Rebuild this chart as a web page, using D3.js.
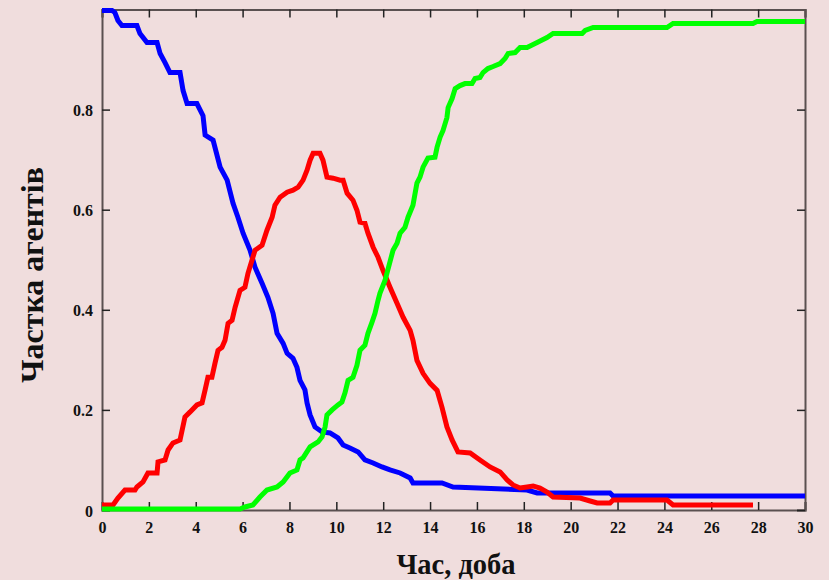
<!DOCTYPE html>
<html>
<head>
<meta charset="utf-8">
<script src="https://cdn.jsdelivr.net/npm/d3@7/dist/d3.min.js"></script>
<style>
  html, body { margin: 0; padding: 0; background: #f0dddd; }
  svg { display: block; }
  text { font-family: "Liberation Serif", "Times New Roman", serif; font-weight: bold; fill: #111; }
</style>
</head>
<body>
<svg id="chart" width="829" height="580"></svg>
<script>
// Agent-based SIR run: share of agents per state over time (days)
// Each series is a list of [day, share] samples.
const susceptible = [
  [0.00,0.998],[0.43,0.998],[0.55,0.994],[0.68,0.978],[0.85,0.968],[1.49,0.968],[1.62,0.952],
  [1.92,0.934],[2.35,0.934],[2.48,0.912],[2.69,0.894],[2.90,0.874],[3.33,0.874],[3.46,0.838],
  [3.63,0.812],[4.05,0.812],[4.31,0.788],[4.40,0.749],[4.74,0.739],[5.04,0.685],[5.34,0.659],
  [5.59,0.613],[5.80,0.585],[6.02,0.553],[6.32,0.519],[6.53,0.485],[6.83,0.453],[7.08,0.425],
  [7.30,0.393],[7.47,0.353],[7.73,0.333],[7.90,0.313],[8.15,0.303],[8.32,0.285],[8.45,0.259],
  [8.66,0.240],[8.75,0.214],[8.88,0.190],[9.09,0.166],[9.39,0.156],[9.73,0.154],[10.07,0.144],
  [10.29,0.130],[10.58,0.124],[10.93,0.116],[11.22,0.100],[11.57,0.094],[11.95,0.086],
  [12.29,0.080],[12.72,0.074],[13.15,0.064],[13.27,0.054],[14.51,0.054],[14.98,0.046],
  [18.14,0.040],[18.57,0.034],[21.68,0.034],[21.81,0.028],[30.00,0.028]
];
const infected = [
  [0.00,0.010],[0.47,0.010],[0.68,0.024],[0.98,0.040],[1.41,0.040],[1.49,0.046],[1.75,0.056],
  [1.96,0.074],[2.35,0.074],[2.39,0.096],[2.69,0.100],[2.82,0.120],[3.03,0.134],[3.33,0.140],
  [3.54,0.186],[3.76,0.196],[4.05,0.210],[4.27,0.214],[4.40,0.240],[4.52,0.265],[4.69,0.265],
  [4.82,0.293],[4.95,0.319],[5.12,0.325],[5.25,0.339],[5.38,0.373],[5.55,0.379],[5.68,0.405],
  [5.89,0.439],[6.10,0.445],[6.23,0.473],[6.40,0.499],[6.53,0.519],[6.83,0.529],[7.04,0.559],
  [7.26,0.585],[7.38,0.609],[7.60,0.625],[7.90,0.635],[8.15,0.639],[8.37,0.645],[8.58,0.659],
  [8.75,0.679],[8.88,0.699],[9.01,0.713],[9.30,0.713],[9.43,0.699],[9.60,0.665],[9.86,0.663],
  [10.16,0.659],[10.29,0.659],[10.46,0.633],[10.71,0.619],[10.88,0.599],[11.01,0.575],
  [11.22,0.573],[11.35,0.553],[11.57,0.525],[11.78,0.505],[11.99,0.479],[12.29,0.445],
  [12.59,0.413],[12.85,0.385],[13.15,0.359],[13.27,0.339],[13.44,0.299],[13.70,0.273],
  [14.00,0.253],[14.30,0.239],[14.51,0.205],[14.72,0.166],[14.94,0.140],[15.19,0.116],
  [15.71,0.114],[16.13,0.100],[16.56,0.086],[16.99,0.076],[17.29,0.060],[17.54,0.050],
  [17.84,0.044],[18.14,0.046],[18.40,0.048],[18.69,0.044],[18.99,0.036],[19.25,0.026],
  [20.40,0.024],[20.83,0.018],[21.13,0.014],[21.68,0.014],[21.81,0.020],[24.11,0.020],
  [24.37,0.010],[27.78,0.010]
];
const recovered = [
  [0.00,0.002],[5.89,0.002],[6.10,0.006],[6.44,0.010],[6.74,0.026],[7.04,0.040],[7.47,0.046],
  [7.73,0.056],[8.02,0.074],[8.32,0.080],[8.45,0.100],[8.58,0.104],[8.88,0.126],[9.22,0.136],
  [9.39,0.146],[9.52,0.166],[9.60,0.190],[9.82,0.200],[10.07,0.210],[10.24,0.216],[10.37,0.234],
  [10.50,0.259],[10.71,0.265],[10.88,0.289],[11.01,0.319],[11.22,0.329],[11.35,0.353],
  [11.52,0.375],[11.65,0.393],[11.78,0.419],[11.86,0.433],[12.08,0.459],[12.42,0.519],
  [12.59,0.533],[12.72,0.553],[12.93,0.565],[13.06,0.585],[13.27,0.609],[13.44,0.653],
  [13.57,0.665],[13.70,0.685],[13.91,0.703],[14.21,0.705],[14.30,0.725],[14.43,0.745],
  [14.55,0.758],[14.72,0.784],[14.77,0.804],[14.94,0.822],[15.07,0.842],[15.28,0.848],
  [15.49,0.852],[15.79,0.852],[15.92,0.862],[16.13,0.864],[16.26,0.874],[16.47,0.882],
  [16.69,0.886],[16.99,0.892],[17.20,0.902],[17.33,0.912],[17.63,0.914],[17.84,0.924],
  [18.14,0.924],[18.57,0.934],[18.99,0.944],[19.25,0.952],[20.49,0.952],[20.62,0.958],
  [20.96,0.964],[24.11,0.964],[24.37,0.972],[27.78,0.972],[27.95,0.976],[30.00,0.976]
];

const xTicks = d3.range(0, 31, 2);
const yTicks = [0, 0.2, 0.4, 0.6, 0.8];
const xTitle = "Час, доба";
const yTitle = "Частка агентів";

const seriesList = [
  { data: susceptible, color: "#0000ff" },
  { data: infected,    color: "#ff0000" },
  { data: recovered,   color: "#00ff00" }
];

const svg = d3.select("#chart");
const plot = { left: 102, right: 805, top: 9.5, bottom: 510 };

const x = d3.scaleLinear().domain([0, 30]).range([plot.left, plot.right]);
const y = d3.scaleLinear().domain([0, 1]).range([plot.bottom, plot.top]);

const tickFmt = d => d === 0 ? "0" : d3.format(".1f")(d);

// frame axes: ticks point inward on all four sides
const gx = svg.append("g").attr("transform", `translate(0,${plot.bottom})`)
  .call(d3.axisBottom(x).tickValues(xTicks).tickSize(-8).tickPadding(12).tickFormat(d3.format("d")));
const gxTop = svg.append("g").attr("transform", `translate(0,${plot.top})`)
  .call(d3.axisTop(x).tickValues(xTicks).tickSize(-8).tickFormat(""));
const gy = svg.append("g").attr("transform", `translate(${plot.left},0)`)
  .call(d3.axisLeft(y).tickValues(yTicks).tickSize(-8).tickPadding(9).tickFormat(tickFmt));
const gyRight = svg.append("g").attr("transform", `translate(${plot.right},0)`)
  .call(d3.axisRight(y).tickValues(yTicks).tickSize(-8).tickFormat(""));

[gx, gxTop, gy, gyRight].forEach(g => {
  g.select(".domain").attr("stroke", "#5a5050").attr("stroke-width", 2);
  g.selectAll(".tick line").attr("stroke", "#222").attr("stroke-width", 1.5);
  g.selectAll(".tick text")
    .attr("font-family", "'Liberation Serif', 'Times New Roman', serif")
    .attr("font-weight", "bold").attr("font-size", 16).attr("fill", "#111");
});
gy.selectAll(".tick text").attr("dy", "0.38em");

// curves
const line = d3.line().x(d => x(d[0])).y(d => y(d[1]));
svg.append("g").selectAll("path").data(seriesList).join("path")
  .attr("d", s => line(s.data))
  .attr("fill", "none")
  .attr("stroke", s => s.color)
  .attr("stroke-width", 5)
  .attr("stroke-linejoin", "miter")
  .attr("stroke-linecap", "butt");

// axis titles
svg.append("text")
  .attr("x", 456).attr("y", 574)
  .attr("text-anchor", "middle")
  .attr("font-size", 28.5)
  .text(xTitle);

svg.append("text")
  .attr("transform", `translate(43,275) rotate(-90)`)
  .attr("text-anchor", "middle")
  .attr("font-size", 32)
  .text(yTitle);
</script>
</body>
</html>
